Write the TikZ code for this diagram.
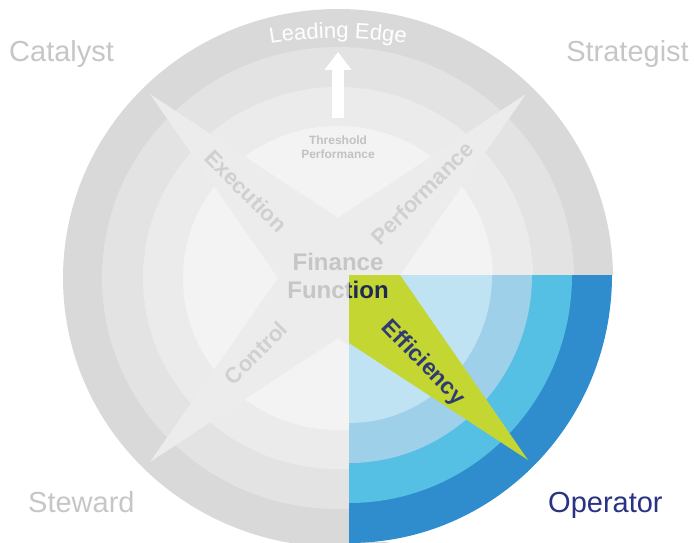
\documentclass[tikz,border=0pt]{standalone}
\usepackage{fontspec}
\setmainfont{Liberation Sans}
\usetikzlibrary{arrows.meta,decorations.text}

\definecolor{ringa}{HTML}{D9D9D9}
\definecolor{ringb}{HTML}{E3E3E3}
\definecolor{ringc}{HTML}{EBEBEB}
\definecolor{ringd}{HTML}{F3F3F3}
\definecolor{crossgrey}{HTML}{ECECEC}
\definecolor{rolegrey}{HTML}{C6C6C6}
\definecolor{armgrey}{HTML}{D0D0D0}
\definecolor{fingrey}{HTML}{C6C6C6}
\definecolor{thrgrey}{HTML}{C2C2C2}
\definecolor{bluea}{HTML}{2F8DCD}
\definecolor{blueb}{HTML}{55C0E4}
\definecolor{bluec}{HTML}{9FD0EA}
\definecolor{blued}{HTML}{BFE3F3}
\definecolor{effgreen}{HTML}{C4D632}
\definecolor{opnavy}{HTML}{2A3383}
\definecolor{effnavy}{HTML}{2E3B73}
\definecolor{finnavy}{HTML}{1E2A55}

\begin{document}
\begin{tikzpicture}[x=1pt,y=1pt,
        role/.style={font=\fontsize{29}{29}\selectfont, text=rolegrey, inner sep=0pt},
        armlabel/.style={font=\bfseries\fontsize{22}{22}\selectfont, text=armgrey, inner sep=0pt},
        finlabel/.style={font=\bfseries\fontsize{24}{28}\selectfont, align=center, inner sep=0pt}]
        \useasboundingbox (0,0) rectangle (694,542);
        \clip (0,0) rectangle (694,542);

        % grey wheel
        \begin{scope}[shift={(338,264)}]
                \foreach \rx/\ry/\col in {275/269/ringa,236/231/ringb,195/191/ringc,155/152/ringd}{
                \fill[\col] (0,0) ellipse [x radius=\rx, y radius=\ry];
                }
                \fill[crossgrey] (-188,184) -- (0,60) -- (188,184) -- (60,0) -- (188,-184)
                        -- (0,-60) -- (-188,-184) -- (-60,0) -- cycle; %the cross
                \node[font=\bfseries\fontsize{12}{14}\selectfont, text=thrgrey, align=center] (thr) at (0,131) {Threshold\\Performance};
                \coordinate (foot) at (0,160);
                \coordinate (edgetip) at (0,226);
                \draw[white, line width=12pt, -{Triangle[width=26pt,length=18pt]}] (foot) -- (edgetip);
                \path[decorate, decoration={text along path, text align=center,
                        text={|\fontsize{22}{22}\selectfont\color{white}|Leading Edge}}]
                        (-169,202.5) arc [start angle=115, end angle=65, radius=400];
                \node[armlabel, rotate=-45] (exe) at (-92,87) {Execution};
                \node[armlabel, rotate=45] (perf) at (84,85) {Performance};
                \node[armlabel, rotate=45] (ctrl) at (-82,-75) {Control};
                \node[finlabel, text=fingrey] (fin) at (0,2) {Finance\\Function};
        \end{scope}

        % highlighted quarter
        \begin{scope}
                \clip (349,0) rectangle (694,267);
                \fill[white] (349,0) rectangle (694,267);
                \begin{scope}[shift={(349,267)}]
                        \foreach \rx/\ry/\col in {263/268/bluea,223/228/blueb,183/188/bluec,143/148/blued}{
                        \fill[\col] (0,0) ellipse [x radius=\rx, y radius=\ry];
                        }
                        \fill[effgreen] (0,0) -- (51,0) -- (179,-185) -- (0,-68) -- cycle;
                        \node[font=\bfseries\fontsize{23}{23}\selectfont, text=effnavy, rotate=-46, inner sep=0pt] (eff) at (74,-88) {Efficiency};
                \end{scope}
                \node[finlabel, text=finnavy] (finhl) at (338,266) {Finance\\Function};
        \end{scope}

        \node[role, anchor=base west] (catalyst) at (9,480) {Catalyst};
        \node[role, anchor=base east] (strategist) at (689,480) {Strategist};
        \node[role, anchor=base west] (steward) at (28,30) {Steward};
        \node[role, anchor=base west, text=opnavy] (operator) at (548,30) {Operator};
\end{tikzpicture}
\end{document}
